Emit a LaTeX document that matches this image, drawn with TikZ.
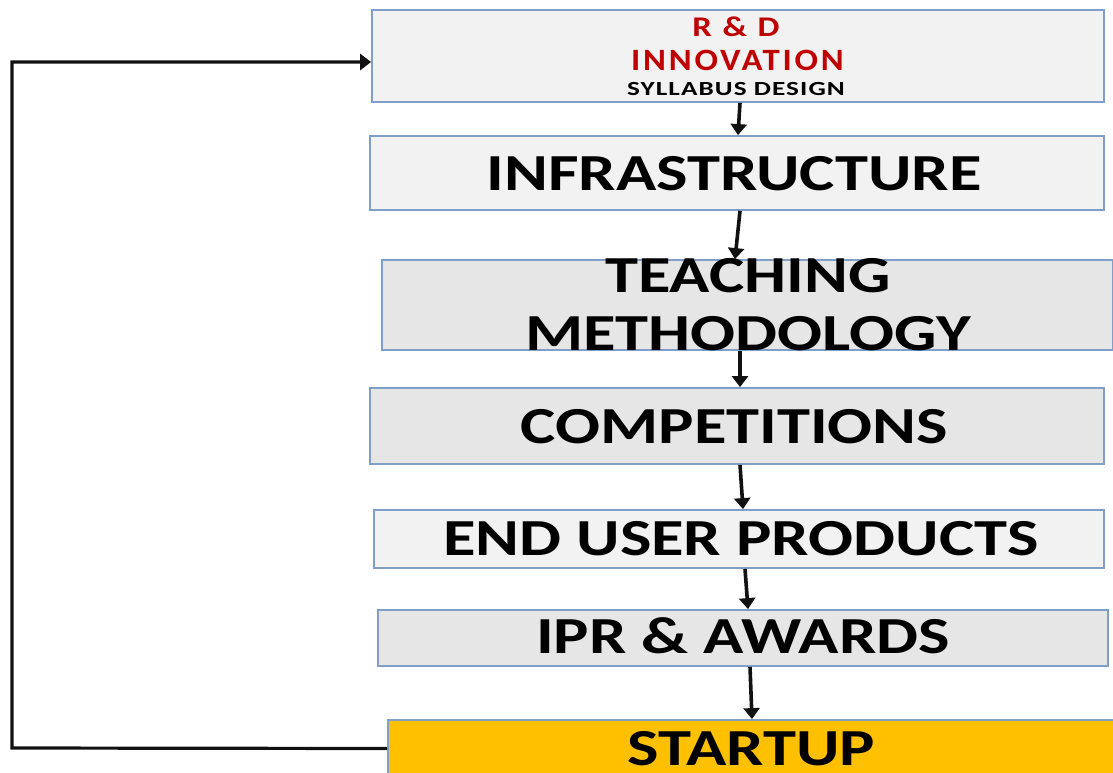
\documentclass[tikz,border=0pt]{standalone}
\usepackage{fontspec}
\usepackage{graphicx}
\setmainfont{Carlito}
\usetikzlibrary{arrows.meta}
\definecolor{boxline}{HTML}{7F9FC8}
\definecolor{lightfill}{HTML}{F2F2F2}
\definecolor{midfill}{HTML}{E6E6E6}
\definecolor{gold}{HTML}{FFC000}
\definecolor{rdred}{HTML}{C00000}
\definecolor{ink}{HTML}{111111}
\newcommand\widetxt[2][1.28]{\scalebox{#1}[1]{#2}}
\tikzset{
  box/.style={draw=boxline, line width=1.8pt, rectangle, inner sep=0pt},
  lbl/.style={anchor=base, inner sep=0pt, font=\bfseries\fontsize{52}{58}\selectfont},
  small/.style={anchor=base, inner sep=0pt},
  flow/.style={draw=ink, line width=3.6pt, -{Triangle[length=11pt,width=16pt]}},
}
\begin{document}
\begin{tikzpicture}[x=1pt,y=-1pt]
\useasboundingbox (0,0) rectangle (1113,773);
\clip (0,0) rectangle (1113,773);
\fill[white] (0,0) rectangle (1113,773);
\node[box, fill=lightfill, minimum width=732pt, minimum height=92pt] (rd) at (738,56) {};
\node[small, font=\bfseries\fontsize{28.5}{32}\selectfont\addfontfeatures{LetterSpace=8}, text=rdred] (rdt) at (736,37) {\widetxt[1.22]{R \& D}};
\node[small, font=\bfseries\fontsize{31}{34}\selectfont\addfontfeatures{LetterSpace=8}, text=rdred] (inn) at (737.5,71) {\widetxt[1.12]{INNOVATION}};
\node[small, font=\bfseries\fontsize{20}{22}\selectfont\addfontfeatures{LetterSpace=4}] (syl) at (736,96) {\widetxt[1.36]{SYLLABUS DESIGN}};
\node[box, fill=lightfill, minimum width=734pt, minimum height=74pt] (infra) at (737,173) {};
\node[lbl] (infrat) at (734,190) {\widetxt{INFRASTRUCTURE}};
\node[box, fill=midfill, minimum width=731pt, minimum height=90pt] (teach) at (747.5,305) {};
\node[lbl] (teach1) at (748,292) {\widetxt{TEACHING}};
\node[lbl] (teach2) at (748,350) {\widetxt{METHODOLOGY}};
\node[box, fill=midfill, minimum width=734pt, minimum height=76pt] (comp) at (737,426) {};
\node[lbl] (compt) at (734.5,443) {\widetxt{COMPETITIONS}};
\node[box, fill=lightfill, minimum width=730pt, minimum height=58pt] (end) at (739,539) {};
\node[lbl] (endt) at (741,555) {\widetxt{END USER PRODUCTS}};
\node[box, fill=midfill, minimum width=730pt, minimum height=56pt] (ipr) at (743,638) {};
\node[lbl] (iprt) at (743,653) {\widetxt{IPR \& AWARDS}};
\node[box, fill=gold, minimum width=726pt, minimum height=57pt] (start) at (751,748.5) {};
\node[lbl] (startt) at (751.5,765) {\widetxt{STARTUP}};
\draw[flow] (rd.south -| 740,0) -- (infra.north -| 738,0);
\draw[flow] (infra.south -| 740,0) -- (teach.north -| 735,0);
\draw[flow] (teach.south -| 740,0) -- (comp.north -| 740,0);
\draw[flow] (comp.south -| 740,0) -- (end.north -| 743,0);
\draw[flow] (end.south -| 745,0) -- (ipr.north -| 748,0);
\draw[flow] (ipr.south -| 750,0) -- (start.north -| 752,0);
\coordinate (c1) at (12,748);
\coordinate (c2) at (12,62);
\draw[flow, line width=3.2pt] (start.west) -- (c1) -- (c2) -- (rd.west |- c2);
\end{tikzpicture}
\end{document}
